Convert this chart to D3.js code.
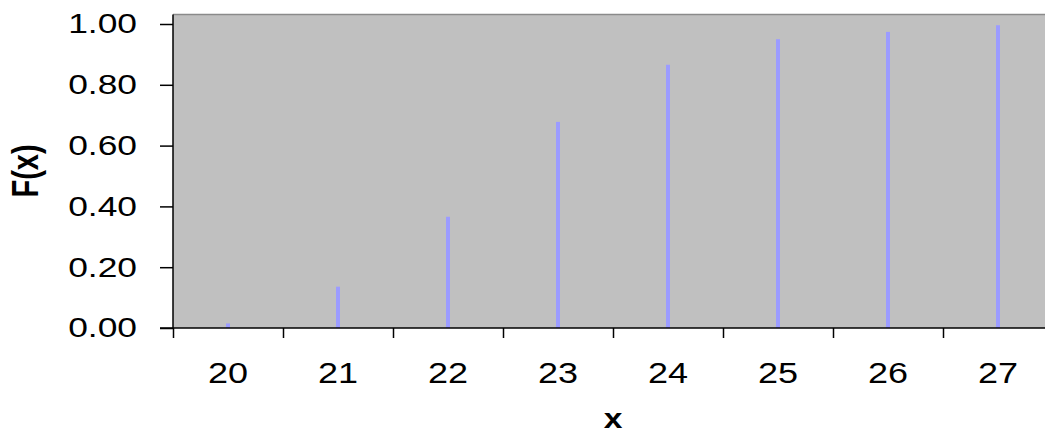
<!DOCTYPE html>
<html>
<head>
<meta charset="utf-8">
<script src="https://cdn.jsdelivr.net/npm/d3@7"></script>
<style>
  body { margin: 0; background: #fff; }
  text { font-family: "Liberation Sans", Arial, sans-serif; fill: #000; }
</style>
</head>
<body>
<svg id="chart" width="1045" height="435"></svg>
<script>
// cumulative probabilities
const xs = [20, 21, 22, 23, 24, 25, 26, 27];
const fx = [0.015, 0.136, 0.366, 0.678, 0.866, 0.950, 0.974, 0.996];
const yTicks = [0, 0.2, 0.4, 0.6, 0.8, 1.0];

const svg = d3.select("#chart");
const plotLeft = 173, plotTop = 14.5, plotBottom = 328;

// last band runs past the right edge of the window
const x = d3.scaleLinear().domain([19.5, 27.5]).range([plotLeft, plotLeft + 880]);
const y = d3.scaleLinear().domain([0, 1]).range([plotBottom, 24]);

// plot area
svg.append("rect")
  .attr("x", plotLeft).attr("y", plotTop)
  .attr("width", 1045 - plotLeft).attr("height", plotBottom - plotTop)
  .attr("fill", "#c0c0c0");
svg.append("line")
  .attr("x1", plotLeft).attr("x2", 1045)
  .attr("y1", plotTop).attr("y2", plotTop)
  .attr("stroke", "#8a8a8a").attr("stroke-width", 1.5);

// bars (spikes)
svg.append("g").selectAll("rect")
  .data(xs)
  .join("rect")
  .attr("x", (d) => x(d) - 2)
  .attr("width", 4)
  .attr("y", (d, i) => y(fx[i]))
  .attr("height", (d, i) => plotBottom - y(fx[i]))
  .attr("fill", "#9c9cff");

// y axis
const yAxis = svg.append("g")
  .attr("transform", "translate(" + plotLeft + ",0)")
  .call(d3.axisLeft(y).tickValues(yTicks).tickSize(13).tickFormat(""));
yAxis.select(".domain").attr("d", "M0," + plotTop + "V" + plotBottom);
yAxis.selectAll("line, path").attr("stroke", "#000").attr("stroke-width", 1.5);

svg.append("g").selectAll("text")
  .data(yTicks)
  .join("text")
  .attr("transform", (d) => "translate(137," + y(d) + ") scale(1.31,1)")
  .attr("text-anchor", "end")
  .attr("dy", "0.35em")
  .style("font-size", "27px")
  .text((d) => d3.format(".2f")(d));

// x axis, ticks at the band edges
const edges = xs.map((d) => d - 0.5).concat([27.5]);
const xAxis = svg.append("g")
  .attr("transform", "translate(0," + plotBottom + ")")
  .call(d3.axisBottom(x).tickValues(edges).tickSize(10).tickFormat(""));
xAxis.select(".domain").attr("d", "M160,0H1045");
xAxis.selectAll("line, path").attr("stroke", "#000").attr("stroke-width", 1.5);

svg.append("g").selectAll("text")
  .data(xs)
  .join("text")
  .attr("transform", (d) => "translate(" + x(d) + ",383) scale(1.2,1)")
  .attr("text-anchor", "middle")
  .style("font-size", "30px")
  .text((d) => d);

// axis titles
svg.append("text")
  .attr("transform", "translate(" + (plotLeft + 440) + ",428) scale(1.2,1)")
  .attr("text-anchor", "middle")
  .style("font-size", "28px")
  .style("font-weight", "bold")
  .text("x");

svg.append("text")
  .attr("transform", "translate(38,171) scale(1.3,1) rotate(-90)")
  .attr("text-anchor", "middle")
  .style("font-size", "29px")
  .style("font-weight", "bold")
  .text("F(x)");
</script>
</body>
</html>
